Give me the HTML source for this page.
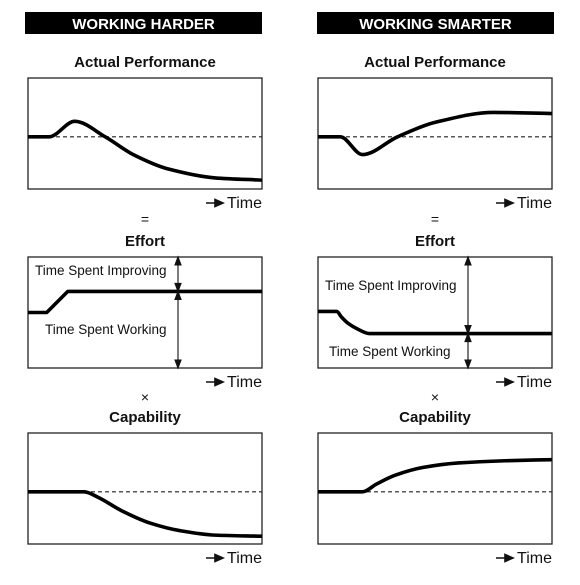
<!DOCTYPE html>
<html><head><meta charset="utf-8"><style>
html,body{margin:0;padding:0;background:#fff}
svg{display:block}
text{font-family:"Liberation Sans",Arial,sans-serif;fill:#111}
</style></head><body>
<svg id="s" width="580" height="585" viewBox="0 0 580 585" xmlns="http://www.w3.org/2000/svg">
<rect x="25" y="12" width="237" height="22" fill="#000"/>
<text x="143.5" y="29" text-anchor="middle" font-size="15" font-weight="bold" style="fill:#fff">WORKING HARDER</text>
<rect x="317" y="12" width="237" height="22" fill="#000"/>
<text x="435.5" y="29" text-anchor="middle" font-size="15" font-weight="bold" style="fill:#fff">WORKING SMARTER</text>
<g id="g"></g>
</svg>
<script>
// time 0..100 across box, value 0..100 bottom..top
const perfHarderT=[0,9,20,33,45,60,80,100];
const perfHarderV=[47,47,61,47,31,18,10,8];
const perfSmarterT=[0,9.5,19,34,50,75,100];
const perfSmarterV=[47,47,31,47,60,69,68];
const effHarderT=[0,8,17,100];
const effHarderV=[50,50,69,69];
const effSmarterT=[0,8,10,13,17,22,100];
const effSmarterV=[51,51,46,40,35,31,31];
const capHarderT=[0,24,30,40,52,65,80,100];
const capHarderV=[47,47,42,30,19,12,8,7];
const capSmarterT=[0,19,25,33,45,60,80,100];
const capSmarterV=[47,47,54,62,69,73,75,76];
const baseline=47;

const NS='http://www.w3.org/2000/svg';
const G=document.getElementById('g');
function mk(tag,attrs,txt){const e=document.createElementNS(NS,tag);for(const k in attrs)e.setAttribute(k,attrs[k]);if(txt!=null)e.textContent=txt;G.appendChild(e);return e;}
function xs(b,t){return b.x+t/100*b.w;}
function ys(b,v){return b.y+b.h-v/100*b.h;}
function smoothPath(b,T,V){
  const p=T.map((t,i)=>[xs(b,t),ys(b,V[i])]);
  const n=p.length, d=[], m=[];
  for(let i=0;i<n-1;i++) d.push((p[i+1][1]-p[i][1])/(p[i+1][0]-p[i][0]));
  for(let i=0;i<n;i++){
    if(i===0) m.push(d[0]); else if(i===n-1) m.push(d[n-2]);
    else if(d[i-1]*d[i]<=0) m.push(0);
    else m.push(2/(1/d[i-1]+1/d[i]));
  }
  let s='M'+p[0][0]+','+p[0][1];
  for(let i=0;i<n-1;i++){
    const h=(p[i+1][0]-p[i][0])/3;
    s+=' C'+(p[i][0]+h)+','+(p[i][1]+m[i]*h)+' '+(p[i+1][0]-h)+','+(p[i+1][1]-m[i+1]*h)+' '+p[i+1][0]+','+p[i+1][1];
  }
  return s;
}
function linePath(b,T,V){return T.map((t,i)=>(i?'L':'M')+xs(b,t)+','+ys(b,V[i])).join(' ');}
function title(x,y,s,name){const e=mk('text',{x:x,y:y,'text-anchor':'middle','font-size':15,'font-weight':'bold'},s);

}
function sym(x,y,s,name){const e=mk('text',{x:x,y:y,'text-anchor':'middle','font-size':14},s);

}
function box(b,name){const r=mk('rect',{x:b.x,y:b.y,width:b.w,height:b.h,fill:'none',stroke:'#222','stroke-width':1.3});

}
function timeLabel(b,name){
  const y=b.y+b.h+19;
  const a=mk('path',{d:'M'+(b.x+b.w-56)+','+(y-5)+' L'+(b.x+b.w-44)+','+(y-5)+' M'+(b.x+b.w-47)+','+(y-8.5)+' L'+(b.x+b.w-39)+','+(y-5)+' L'+(b.x+b.w-47)+','+(y-1.5)+'Z',stroke:'#111','stroke-width':1.6,fill:'#111'});
  
  
  const t=mk('text',{x:b.x+b.w,y:y,'text-anchor':'end','font-size':16},'Time');
  
  
}
function dashed(b,name){const l=mk('line',{x1:b.x,x2:b.x+b.w,y1:ys(b,baseline),y2:ys(b,baseline),stroke:'#222','stroke-width':1.2,'stroke-dasharray':'4,3'});

}
function curve(d,name){const c=mk('path',{d:d,fill:'none',stroke:'#000','stroke-width':3.6,'stroke-linejoin':'round'});

}
function vArrow(x,y1,y2,name){
  const l=mk('path',{d:'M'+x+','+(y1+2)+' L'+x+','+(y2-2)+' M'+(x-3)+','+(y1+8)+' L'+x+','+y1+' L'+(x+3)+','+(y1+8)+'Z M'+(x-3)+','+(y2-8)+' L'+x+','+y2+' L'+(x+3)+','+(y2-8)+'Z',stroke:'#111','stroke-width':1.1,fill:'#111'});
  
  
}
function label(x,y,s,name){const e=mk('text',{x:x,y:y,'font-size':13.5},s);

}

const cols=[{x:28,side:'harder'},{x:318,side:'smarter'}];
const W=234,H=111;
cols.forEach(c=>{
  const cx=c.x+W/2;
  const p={x:c.x,y:78,w:W,h:H}, e={x:c.x,y:257,w:W,h:H}, k={x:c.x,y:433,w:W,h:H};
  title(cx,67,'Actual Performance',c.side+'-performance-title');
  box(p,c.side+'-performance-box'); dashed(p,c.side+'-performance-baseline');
  curve(smoothPath(p,c.side==='harder'?perfHarderT:perfSmarterT,c.side==='harder'?perfHarderV:perfSmarterV),c.side+'-performance-curve');
  timeLabel(p,c.side+'-performance-time-label');
  sym(cx,224,'=',c.side+'-equals-sign');
  title(cx,246,'Effort',c.side+'-effort-title');
  box(e,c.side+'-effort-box');
  if(c.side==='harder'){
    curve(linePath(e,effHarderT,effHarderV),'harder-effort-curve');
    const yl=ys(e,effHarderV[effHarderV.length-1]);
    vArrow(178,e.y,yl,'harder-improving-arrow'); vArrow(178,yl,e.y+e.h,'harder-working-arrow');
    label(35,275,'Time Spent Improving','harder-improving-label');
    label(45,334,'Time Spent Working','harder-working-label');
  } else {
    curve(smoothPath(e,effSmarterT,effSmarterV),'smarter-effort-curve');
    const yl=ys(e,effSmarterV[effSmarterV.length-1]);
    vArrow(468,e.y,yl,'smarter-improving-arrow'); vArrow(468,yl,e.y+e.h,'smarter-working-arrow');
    label(325,290,'Time Spent Improving','smarter-improving-label');
    label(329,356,'Time Spent Working','smarter-working-label');
  }
  timeLabel(e,c.side+'-effort-time-label');
  sym(cx,402,'×',c.side+'-times-sign');
  title(cx,422,'Capability',c.side+'-capability-title');
  box(k,c.side+'-capability-box'); dashed(k,c.side+'-capability-baseline');
  curve(smoothPath(k,c.side==='harder'?capHarderT:capSmarterT,c.side==='harder'?capHarderV:capSmarterV),c.side+'-capability-curve');
  timeLabel(k,c.side+'-capability-time-label');
});
</script>
</body></html>
